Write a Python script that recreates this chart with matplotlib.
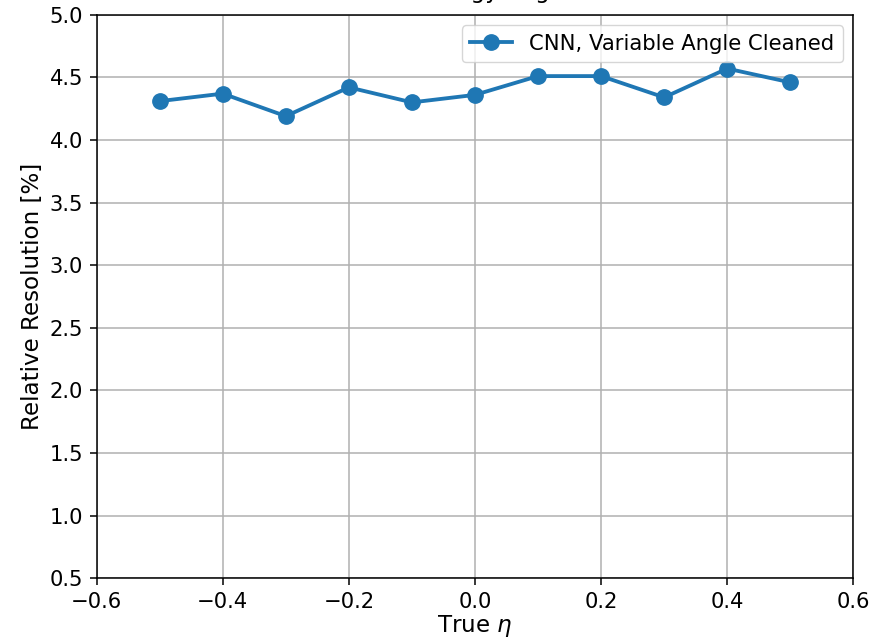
import numpy as np
import matplotlib
matplotlib.use("Agg")
import matplotlib.pyplot as plt

# ---- data ----
eta = [-0.5, -0.4, -0.3, -0.2, -0.1, 0.0, 0.1, 0.2, 0.3, 0.4, 0.5]
resolution = [4.31, 4.37, 4.19, 4.42, 4.30, 4.36, 4.51, 4.51, 4.34, 4.57, 4.46]
series_label = "CNN, Variable Angle Cleaned"
x_ticks = [-0.6, -0.4, -0.2, 0.0, 0.2, 0.4, 0.6]
y_ticks = [0.5, 1.0, 1.5, 2.0, 2.5, 3.0, 3.5, 4.0, 4.5, 5.0]

# original looks like a 138 dpi render, scale everything to 100 dpi
s = 1.38
plt.rcParams.update({
    'font.size': 10 * s,
    'axes.linewidth': 0.8 * s,
    'grid.linewidth': 0.8 * s,
    'xtick.major.size': 3.5 * s,
    'ytick.major.size': 3.5 * s,
    'xtick.major.width': 0.8 * s,
    'ytick.major.width': 0.8 * s,
    'xtick.major.pad': 3.5 * s,
    'ytick.major.pad': 3.5 * s,
    'xtick.labelsize': 11 * s,
    'ytick.labelsize': 11 * s,
})

fig = plt.figure(figsize=(8.87, 6.41), dpi=100)
ax = fig.add_axes([0.109, 0.098, 0.853, 0.879])

ax.plot(eta, resolution, '-o', color='#1f77b4', lw=2 * s, ms=8 * s, label=series_label)

ax.set_xlim(-0.6, 0.6)
ax.set_ylim(0.5, 5.0)
ax.set_xticks(x_ticks)
ax.set_yticks(y_ticks)
ax.grid(True, color='#b0b0b0')
ax.set_axisbelow(True)

ax.set_xlabel(r"True $\eta$", fontsize=12 * s, labelpad=1)
ax.set_ylabel("Relative Resolution [%]", fontsize=12 * s)
# title sits mostly above the canvas, only descenders show
ax.set_title("Relative Energy Regression", fontsize=12 * s, pad=12)

ax.legend(loc='upper right', fontsize=11 * s)

fig.savefig("out.png", dpi=100)
